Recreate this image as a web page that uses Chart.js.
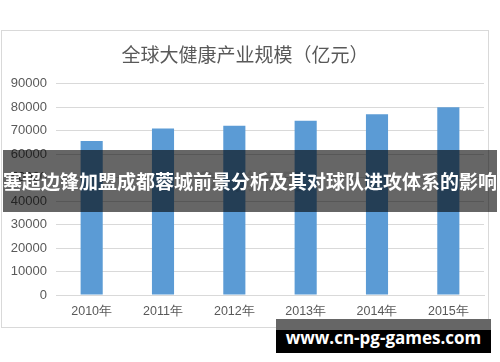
<!DOCTYPE html>
<html>
<head>
<meta charset="utf-8">
<script src="https://cdn.jsdelivr.net/npm/chart.js@4"></script>
<style>
  html, body { margin: 0; padding: 0; background: #fff; }
  #wrap { position: relative; width: 500px; height: 362px; overflow: hidden; }
  #frame { position: absolute; left: 1px; top: 30px; width: 488px; height: 298px; box-sizing: border-box; border: 1px solid #d9d9d9; }
  #chart { position: absolute; left: 0; top: 0; }
  #logo { position: absolute; left: 196px; top: 163px; font: bold 22px "Noto Sans CJK SC"; color: rgba(0,0,0,0.10); letter-spacing: 2px; }
  #logo span { display: inline-block; width: 20px; height: 20px; border-radius: 50%; border: 3px solid rgba(0,0,0,0.10); box-sizing: border-box; vertical-align: -2px; margin-right: 18px; }
  #banner { position: absolute; left: 3px; top: 150px; width: 494px; height: 62px; background: rgba(0,0,0,0.6);
            color: #fff; font: bold 19px "Noto Sans CJK SC"; line-height: 62px; text-align: center; white-space: nowrap; }
  #site { position: absolute; left: 276px; top: 319px; width: 215px; height: 34px; background: #000; }
  #site .top { position: absolute; left: 0; top: 0; width: 215px; height: 11px; background: #666; }
  #site .txt { position: absolute; left: 0; top: 8px; width: 215px; text-align: center; color: #fff; font: bold 17px "Open Sans"; line-height: 22px; }
</style>
</head>
<body>
<div id="wrap">
  <div id="frame"></div>
  <canvas id="chart" width="500" height="362"></canvas>
  <div id="logo"><span></span>前瞻网</div>
  <div id="banner">塞超边锋加盟成都蓉城前景分析及其对球队进攻体系的影响</div>
  <div id="site"><div class="top"></div><div class="txt">www.cn-pg-games.com</div></div>
</div>
<script>
// Data kategori dan nilai
const years = ['2010年', '2011年', '2012年', '2013年', '2014年', '2015年'];
const scaleValues = [65600, 70900, 72100, 74300, 77000, 80000];
const chartTitle = '全球大健康产业规模（亿元）';

const textGray = '#595959';
const gridGray = '#d9d9d9';

new Chart(document.getElementById('chart').getContext('2d'), {
  type: 'bar',
  data: {
    labels: years,
    datasets: [{
      label: chartTitle,
      data: scaleValues,
      backgroundColor: '#5b9bd5',
      borderWidth: 0,
      categoryPercentage: 1,
      barPercentage: 0.31
    }]
  },
  options: {
    responsive: false,
    animation: false,
    layout: { padding: { left: 6, right: 16, top: 0, bottom: 37 } },
    plugins: {
      legend: { display: false },
      tooltip: { enabled: false },
      title: {
        display: true,
        text: chartTitle,
        color: textGray,
        font: { family: '"Noto Sans CJK SC"', size: 19, weight: 'normal' },
        padding: { top: 43, bottom: 18 }
      }
    },
    scales: {
      x: {
        grid: { display: false, drawTicks: false },
        border: { display: true, color: gridGray },
        ticks: { color: textGray, font: { family: '"Liberation Sans"', size: 12.5 }, padding: 9 },
        afterFit: (scale) => { scale.height = 30; }
      },
      y: {
        min: 0,
        max: 90000,
        ticks: {
          stepSize: 10000,
          color: textGray,
          font: { family: '"Liberation Sans"', size: 13 },
          padding: 9,
          callback: (v) => String(v)
        },
        grid: { color: gridGray, drawTicks: false },
        border: { display: false },
        afterFit: (scale) => { scale.width = 50; }
      }
    }
  }
});
</script>
</body>
</html>
